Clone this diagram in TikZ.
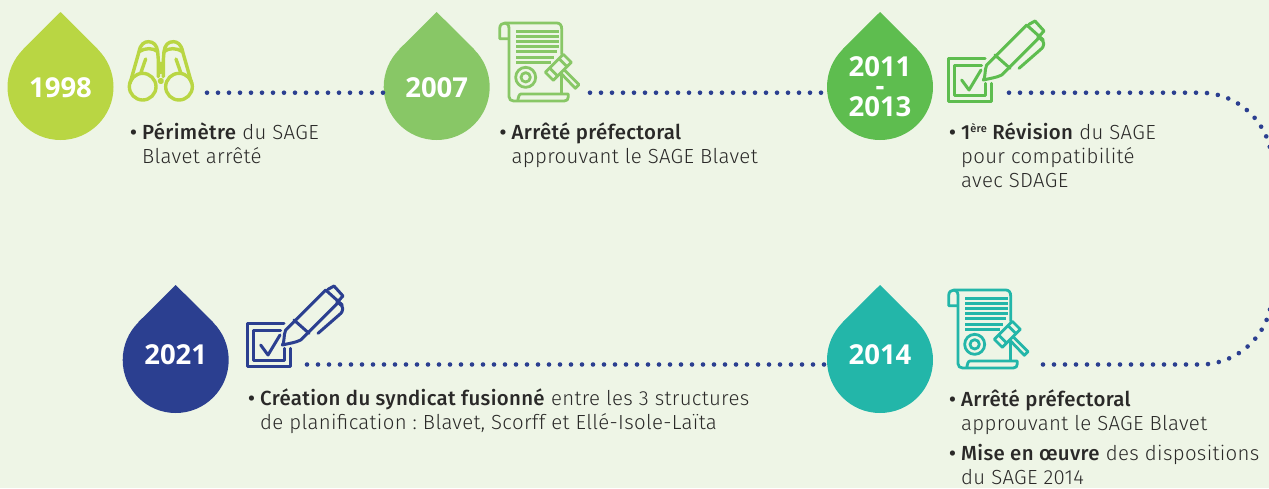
\documentclass[tikz,border=0pt]{standalone}
\usepackage{fontspec}
\setmainfont{Fira Sans}[UprightFont=* Light,BoldFont=* Medium,LetterSpace=1.6]
\newfontfamily\yearfont{Open Sans}[UprightFont=* Bold]
\frenchspacing
\definecolor{pagecol}{HTML}{EEF5E6}
\definecolor{limecol}{HTML}{B9D643}
\definecolor{leafcol}{HTML}{88C766}
\definecolor{grasscol}{HTML}{5EBD4F}
\definecolor{tealcol}{HTML}{23B6A9}
\definecolor{navycol}{HTML}{2B3F90}
\definecolor{inkcol}{HTML}{2A2928}
\newcommand{\itembullet}{\llap{\textbf{•}\hspace{5pt}}}
\newcommand{\smallsup}[1]{\raisebox{6.5pt}{\fontsize{11}{11}\selectfont #1}}
\tikzset{
  x=1pt,y=-1pt,
  dropnode/.style={circle,fill=#1,minimum size=106pt,inner sep=0pt},
  yeartext/.style={text=white,font=\yearfont\fontsize{27.5}{19}\selectfont,align=center,inner sep=0pt},
  infotext/.style={anchor=base west,inner sep=0pt,align=left,text=inkcol,font=\fontsize{20.4}{24}\selectfont},
  dotline/.style={navycol,line width=4.6pt,line cap=round,dash pattern=on 0pt off 11pt},
  pics/binoculars/.style={code={
    \begin{scope}[#1,line width=3.4pt,line join=round,line cap=round]
      \draw (53,155) circle (40);
      \draw (162,155) circle (40);
      \draw (15,145) -- (42,50) .. controls (46,28) and (58,20) .. (70,20) .. controls (85,20) and (96,30) .. (98,50) -- (100,75) -- (100,125);
      \draw (200,145) -- (173,50) .. controls (169,28) and (157,20) .. (145,20) .. controls (130,20) and (119,30) .. (117,50) -- (115,75) -- (115,125);
      \draw (42,50) .. controls (60,38) and (85,38) .. (98,50);
      \draw (173,50) .. controls (155,38) and (130,38) .. (117,50);
      \draw (62,72) -- (47,115);
      \draw (153,72) -- (168,115);
      \draw (107.5,85) -- (107.5,112);
      \draw (107.5,138) circle (5);
    \end{scope}
  }},
  pics/scrollicon/.style={code={
    \begin{scope}[#1,line width=2.8pt,line join=round]
      \draw (42,62) -- (14,62) -- (14,32) .. controls (14,20) and (22,15) .. (30,15) -- (185,15) .. controls (195,15) and (200,22) .. (200,32) -- (200,110);
      \draw (30,15) .. controls (38,15) and (42,22) .. (42,32) -- (42,236) .. controls (42,244) and (48,249) .. (56,249) -- (208,249) .. controls (216,249) and (220,244) .. (220,236) -- (220,228) -- (78,228) .. controls (72,228) and (70,238) .. (68,249);
      \draw (200,172) -- (200,228);
      \foreach \liney/\lineend in {41/192,56/192,71/192,86/192,101/185,118/177,133/167}
        \draw (63,\liney) -- (\lineend,\liney);
      \draw (92,178) circle (30);
      \draw (92,178) circle (14);
      % gavel
      \draw (229,133) -- (205,109) -- (151,163) -- (175,187) -- cycle;
      \draw (216,146) -- (192,122);
      \draw (188,174) -- (164,150);
      \draw (207,155) -- (252,200) -- (241,211) -- (197,165);
    \end{scope}
  }},
  pics/penicon/.style={code={
    \begin{scope}[#1,line width=3pt,line join=round,line cap=round]
      \draw (120,130) -- (10,130) -- (10,258) -- (140,258) -- (140,205);
      \draw (110,150) -- (28,150) -- (28,240) -- (122,240) -- (122,205);
      \draw (50,195) -- (72,225) -- (108,165);
      \draw (115,195) .. controls (122,190) and (118,165) .. (125,150) -- (245,30) -- (295,75);
      \draw (280,70) -- (170,180) .. controls (155,188) and (135,190) .. (115,195);
      \draw (150,120) -- (195,160);
      \draw (252,28) -- (270,18) -- (297,48) -- (278,68);
      \draw (285,70) .. controls (298,78) and (302,92) .. (285,105) -- (222,160);
    \end{scope}
  }}
}
\begin{document}
\begin{tikzpicture}
  \fill[pagecol] (0,0) rectangle (1269,488);
  \useasboundingbox (0,0) rectangle (1269,488);

  \node[dropnode=limecol] (d1998) at (60.5,87) {};
  \node[dropnode=leafcol] (d2007) at (436.7,87) {};
  \node[dropnode=grasscol] (d2011) at (880,87) {};
  \node[dropnode=tealcol] (d2014) at (880,360) {};
  \node[dropnode=navycol] (d2021) at (175.7,360) {};
  \foreach \dropname/\dropcol in {d1998/limecol,d2007/leafcol,d2011/grasscol,d2014/tealcol,d2021/navycol}
    \fill[\dropcol] (\dropname.135) -- ([yshift=75pt]\dropname.center) -- (\dropname.45) -- cycle;

  \node[yeartext] (t1998) at (60.5,87.5) {1998};
  \node[yeartext] (t2007) at (436.7,88) {2007};
  \node[yeartext] (t2011) at (880,87) {2011\\-\\2013};
  \node[yeartext] (t2014) at (880,354.5) {2014};
  \node[yeartext] (t2021) at (175.7,354.5) {2021};

  \coordinate (s1998) at (207,92.7);
  \coordinate (s2007) at (590,92.7);
  \coordinate (s2011) at (1009,92.7);
  \coordinate (bend) at (1272,230);
  \coordinate (s2014) at (1043,364.5);
  \coordinate (s2021) at (307,364.5);
  \draw[dotline] (s1998) -- (s1998 -| d2007.west);
  \draw[dotline] (s2007) -- (s2007 -| d2011.west);
  \draw[dotline,rounded corners=72pt] (s2011) -| (bend);
  \draw[dotline,rounded corners=72pt] (s2014) -| (bend);
  \draw[dotline] (s2021) -- (s2021 -| d2014.west);

  \pic[scale=1/3] at (125,35) {binoculars=limecol};
  \pic[scale=1/3] at (495,18) {scrollicon=leafcol};
  \pic[scale=1/3] at (945,15) {penicon=grasscol};
  \pic[scale=1/3] at (944,285) {scrollicon=tealcol};
  \pic[scale=1/3] at (244,280) {penicon=navycol};

  \node[infotext] (i1998) at (142,163.3) {\itembullet\textbf{Périmètre} du SAGE\\Blavet arrêté};
  \node[infotext] (i2007) at (511.5,163.3) {\itembullet\textbf{Arrêté préfectoral}\\approuvant le SAGE Blavet};
  \node[infotext] (i2011) at (961,187.3) {\itembullet\textbf{1\smallsup{ère} Révision} du SAGE\\pour compatibilité\\avec SDAGE};
  \node[infotext] (i2014a) at (961,430) {\itembullet\textbf{Arrêté préfectoral}\\approuvant le SAGE Blavet};
  \node[infotext] (i2014b) at (961,484.7) {\itembullet\textbf{Mise en œuvre} des dispositions\\du SAGE 2014};
  \node[infotext] (i2021) at (260,429.5) {\itembullet\textbf{Création du syndicat fusionné} entre les 3 structures\\de planification : Blavet, Scorff et Ellé-Isole-Laïta};
\end{tikzpicture}
\end{document}
